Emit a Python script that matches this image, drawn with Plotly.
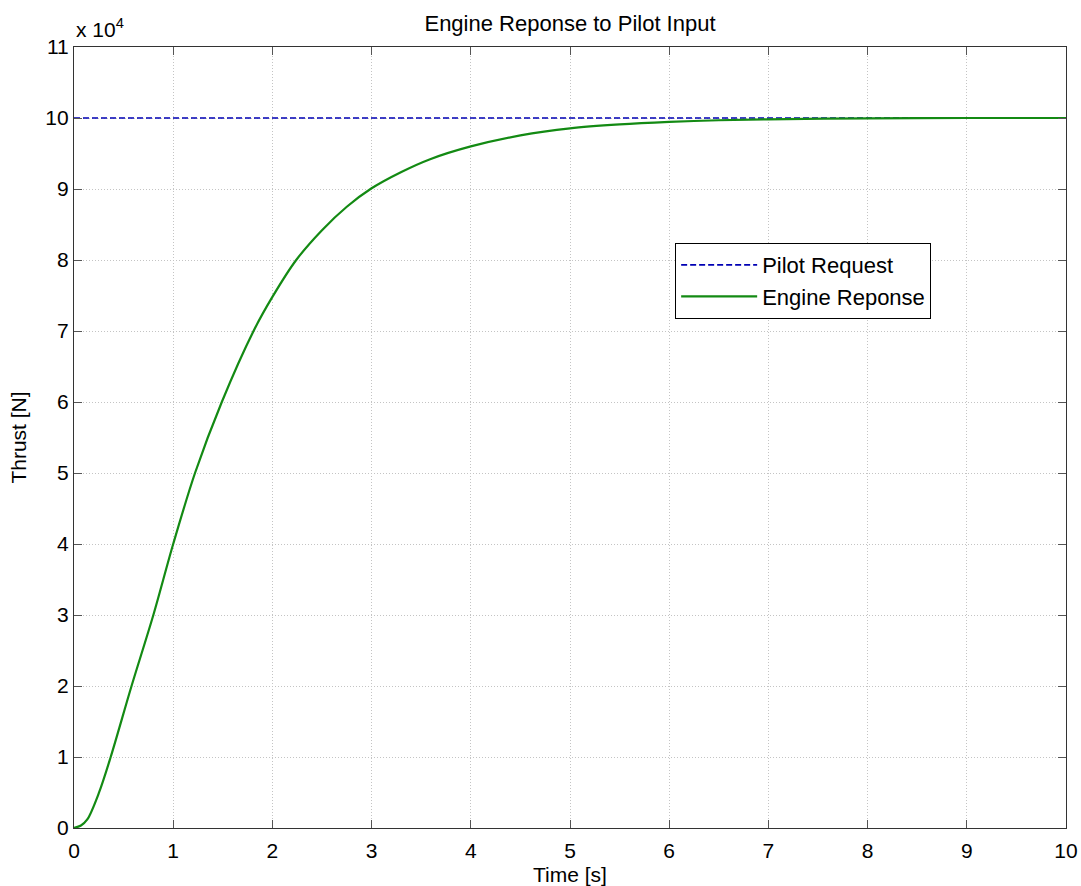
import plotly.graph_objects as go

# Data (thrust in N)
time_s = [0, 0.07, 0.134, 0.25, 0.37, 0.58, 0.8, 1.0, 1.22, 1.49, 1.81, 2.0, 2.24, 2.5,
          2.75, 3.0, 3.3, 3.59, 4.0, 4.5, 5.0, 5.5, 6.0, 6.5, 7.0, 8.0, 9.0, 10.0]
engine_thrust = [0, 350, 1200, 4900, 10000, 20000, 30000, 40000, 50000, 60000, 70000,
                 74800, 80000, 84200, 87500, 90100, 92400, 94200, 96000, 97550, 98550,
                 99100, 99450, 99680, 99820, 99960, 100000, 100000]
request_time = [0, 10]
request_thrust = [100000, 100000]

x_ticks = list(range(0, 11))
y_tick_vals = [i * 10000 for i in range(0, 12)]
y_tick_text = [str(i) for i in range(0, 12)]

FONT = "Liberation Sans, Arial, sans-serif"
FS = 22
TFS = 21

fig = go.Figure()
fig.add_trace(go.Scatter(x=request_time, y=request_thrust, mode="lines",
                         name="Pilot Request",
                         line=dict(color="#0000b4", width=1.6, dash="6px,3px")))
fig.add_trace(go.Scatter(x=time_s, y=engine_thrust, mode="lines",
                         name="Engine Reponse", line_shape="spline",
                         line=dict(color="#138a13", width=2.2, smoothing=0.9)))

axis_common = dict(showline=True, linecolor="#333333", linewidth=1.2, mirror="ticks",
                   ticks="inside", ticklen=8, tickcolor="#555555", tickwidth=1.2,
                   showgrid=True, gridcolor="#c4c4c4", griddash="1px,2px", gridwidth=1,
                   zeroline=False, automargin=False,
                   tickfont=dict(size=TFS, color="black", family=FONT))

fig.update_xaxes(range=[0, 10], tickvals=x_ticks, ticklabelstandoff=4,
                 title=dict(text="Time [s]", font=dict(size=TFS, color="black", family=FONT),
                            standoff=6),
                 **axis_common)
fig.update_yaxes(range=[0, 110000], tickvals=y_tick_vals, ticktext=y_tick_text,
                 title=dict(text="Thrust [N]", font=dict(size=TFS, color="black", family=FONT),
                            standoff=12),
                 **axis_common)

fig.update_layout(
    width=1081, height=886,
    margin=dict(l=74, r=15, t=47, b=58, autoexpand=False),
    paper_bgcolor="white", plot_bgcolor="white",
    font=dict(family=FONT, size=FS, color="black"),
    title=dict(text="Engine Reponse to Pilot Input", x=0.5, xanchor="center",
               xref="paper", y=0.982, yanchor="top",
               font=dict(size=FS, color="black", family=FONT)),
    legend=dict(x=0.606, y=0.749, xanchor="left", yanchor="top",
                bgcolor="white", bordercolor="black", borderwidth=1,
                font=dict(size=FS, color="black", family=FONT),
                tracegroupgap=2, itemwidth=76),
    showlegend=True,
)

fig.add_annotation(text="x 10<sup>4</sup>", xref="paper", yref="paper",
                   x=0, y=1.0, xanchor="left", yanchor="bottom", yshift=4,
                   showarrow=False, font=dict(size=TFS, color="black", family=FONT))

fig.write_html("out.html")
